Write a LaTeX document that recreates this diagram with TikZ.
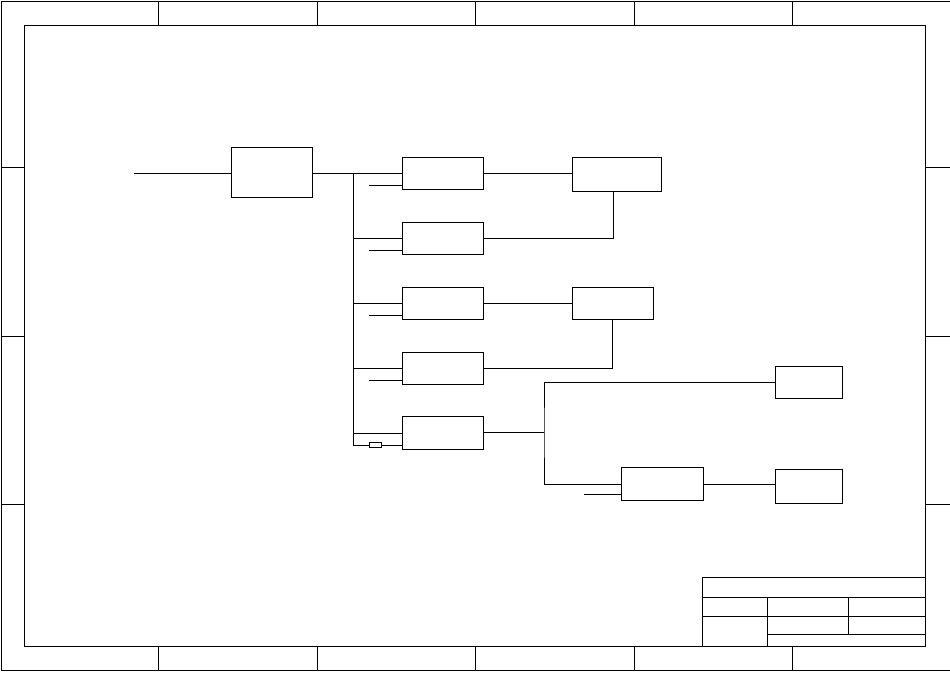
\documentclass[tikz,border=0pt]{standalone}
\usepackage{tikz}
\usetikzlibrary{positioning}

\begin{document}
\begin{tikzpicture}[x=1pt, y=-1pt, line width=0.9pt,
  blk/.style={draw, anchor=north west, inner sep=0pt, outer sep=0pt, minimum width=81pt, minimum height=32pt},
  fuse/.style={draw, inner sep=0pt, outer sep=0pt, minimum width=12pt, minimum height=5pt},
  wire/.style={line cap=rect}]
\useasboundingbox (0,0) rectangle (950,672);
\draw (950,1) -- (1,1) -- (1,670) -- (950,670);
\draw (24,25) rectangle (925,646);
\foreach \x in {158,317,475.5,634,792} {\draw (\x,1) -- (\x,25); \draw (\x,646) -- (\x,670);}
\foreach \y in {167.5,336,504.5} {\draw (1,\y) -- (24,\y); \draw (925,\y) -- (950,\y);}
\draw (702,646) -- (702,577) -- (925,577);
\draw (702,597) -- (925,597); \draw (702,616.5) -- (925,616.5); \draw (767.5,634.5) -- (925,634.5);
\draw (767.5,597) -- (767.5,646); \draw (848.5,597) -- (848.5,634.5);
\node[blk, minimum height=50pt] (main) at (231,147) {};
\node[blk] (ch1) at (402,157) {};
\node[blk] (ch2) at (402,222) {};
\node[blk] (ch3) at (402,287) {};
\node[blk] (ch4) at (402,352) {};
\node[blk, minimum height=33pt] (ch5) at (402,416.5) {};
\node[blk, minimum width=89.5pt, minimum height=34pt] (mixA) at (572,157) {};
\node[blk] (mixB) at (572,287) {};
\node[blk, minimum width=67.5pt, minimum height=32.5pt] (outA) at (775,366) {};
\node[blk, minimum width=81.5pt, minimum height=33pt] (amp) at (621.5,467.5) {};
\node[blk, minimum width=67.5pt, minimum height=33.5pt] (outB) at (775,469.5) {};
\node[fuse] (fz) at (375.5,445) {};
\coordinate (src) at (134,173);
\coordinate (bus) at (353.5,173);
\coordinate (busend) at (353.5,445);
\coordinate (split) at (544,432);
\draw[wire] (src) -- (src -| main.west); \draw[wire] (main.east |- bus) -- (bus) -- (busend);
\draw[wire] (bus) -- (ch1.west); \draw[wire] (bus |- ch2.west) -- (ch2.west); \draw[wire] (bus |- ch3.west) -- (ch3.west);
\draw[wire] (bus |- ch4.west) -- (ch4.west); \draw[wire] (bus |- ch5.west) -- (ch5.west);
\draw[wire] (busend) -- (fz.west); \draw[wire] (fz.east) -- (fz.east -| ch5.west);
\draw[wire] ([yshift=4pt]ch1.south west) -- ++(-33,0); \draw[wire] ([yshift=4pt]ch2.south west) -- ++(-33,0);
\draw[wire] ([yshift=4pt]ch3.south west) -- ++(-33,0); \draw[wire] ([yshift=4pt]ch4.south west) -- ++(-33,0);
\draw[wire] (ch1.east) -- (ch1.east -| mixA.west); \draw[wire] ([xshift=-3pt]mixA.south) |- (ch2.east);
\draw[wire] (ch3.east) -- (mixB.west); \draw[wire] (mixB.south) |- (ch4.east);
\draw[wire] (ch5.east |- split) -- (split); \draw[wire] (outA.west) -| (split) |- (amp.west);
\draw[wire] ([yshift=6pt]amp.south west) -- ++(-37.5,0); \draw[wire] (amp.east) -- (amp.east -| outB.west);
\end{tikzpicture}
\end{document}
